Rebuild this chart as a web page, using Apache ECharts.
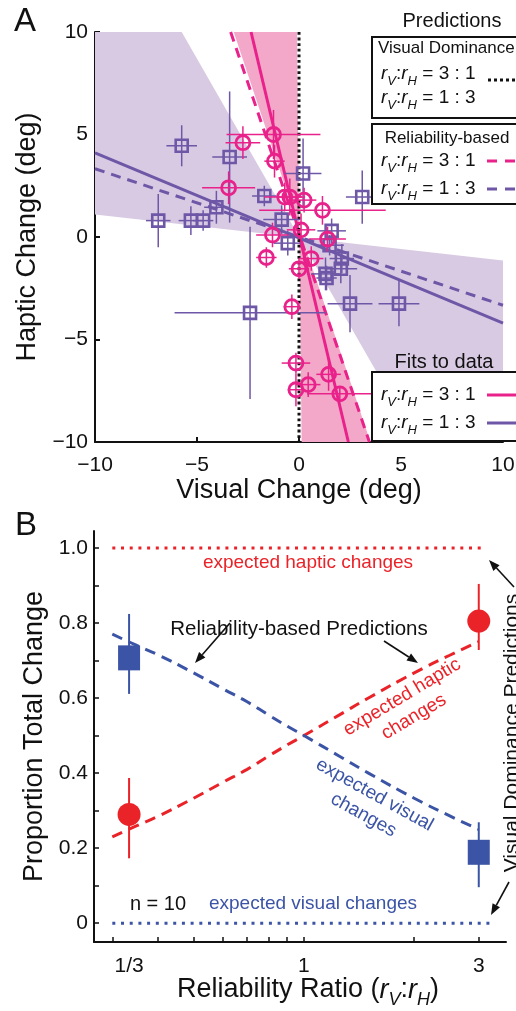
<!DOCTYPE html>
<html><head><meta charset="utf-8">
<script src="https://cdn.jsdelivr.net/npm/echarts@6/dist/echarts.min.js"></script>
<style>html,body{margin:0;padding:0;background:#fff}#c{width:516px;height:1011px}</style>
</head><body><div id="c"></div>
<script>
// ---------------- Panel A data ----------------
// r_V:r_H = 3:1 (pink circles)
const pinkX    = [-2.75, -1.25, -1.2, -3.45, -0.7, -0.45, 0.25, 1.15, -1.3, 0.1, 1.4, -1.6, 0.6, 0.0, -0.35, -0.15, -0.15, 0.45, 1.45, 2.0];
const pinkY    = [4.6, 5.0, 3.7, 2.4, 1.95, 1.95, 1.8, 1.3, 0.1, 0.35, -0.1, -1.0, -1.05, -1.55, -3.4, -6.15, -7.45, -7.2, -6.7, -7.65];
const pinkXErr = [0.85, 2.3, 0.5, 1.3, 1.0, 0.6, 0.6, 3.1, 0.8, 0.7, 0.9, 0.5, 0.6, 0.5, 0.4, 0.7, 0.4, 0.6, 0.6, 1.6];
const pinkYErr = [0.8, 1.2, 0.8, 0.8, 0.7, 0.9, 0.6, 0.7, 0.6, 0.8, 0.6, 0.5, 0.6, 0.5, 0.6, 0.5, 0.8, 0.6, 0.8, 0.3];
// r_V:r_H = 1:3 (purple squares)
const purpleX    = [-5.75, -3.4, -6.9, -5.3, -4.7, -4.05, -1.7, -0.85, 0.2, 3.1, -0.55, 1.6, 1.5, 2.1, 1.3, 1.35, 2.05, 2.5, 4.9, -2.4];
const purpleY    = [4.45, 3.9, 0.8, 0.8, 0.8, 1.45, 2.0, 0.85, 3.1, 1.95, -0.3, 0.3, -0.4, -1.05, -1.8, -2.0, -1.55, -3.25, -3.25, -3.7];
const purpleXErr = [0.75, 0.85, 0.6, 0.6, 0.5, 0.6, 0.6, 0.9, 0.9, 0.8, 0.7, 0.7, 0.7, 0.6, 0.7, 0.5, 0.8, 1.1, 1.0, 3.7];
const purpleYErr = [1.0, 3.2, 1.3, 0.7, 0.5, 0.8, 0.5, 0.7, 1.7, 1.3, 0.6, 0.6, 0.5, 0.7, 0.8, 0.6, 0.7, 1.4, 1.1, 4.2];
// prediction and fit lines (endpoints in data units)
const visDomLine = [[0, 10], [0, -10]];
const relPred31  = [[-3.35, 10], [3.45, -10]];
const relPred13  = [[-10, 3.33], [10, -3.33]];
const fit31      = [[-2.35, 10], [2.42, -10]];
const fit13      = [[-10, 4.1], [10, -4.2]];
// confidence wedges for the fits
const pinkBand   = [[-3.2, 10], [-0.1, 10], [0.13, -10], [3.5, -10]];
const purpleBand = [[-10, 1.1], [-10, 10], [-5.75, 10], [5.77, -10], [10, -10], [10, -1.15]];

// ---------------- Panel B data ----------------
const ratioCats   = [1/3, 3];
const hapticProp  = [0.29, 0.805];
const hapticLo    = [0.173, 0.728];
const hapticHi    = [0.387, 0.904];
const visualProp  = [0.707, 0.189];
const visualLo    = [0.611, 0.096];
const visualHi    = [0.824, 0.269];
const predRatio   = [0.3, 0.35, 0.4, 0.5, 0.6, 0.7, 0.8, 0.9, 1, 1.25, 1.5, 2, 2.5, 3];
const predHaptic  = [0.23, 0.26, 0.285, 0.333, 0.375, 0.41, 0.445, 0.475, 0.5, 0.555, 0.6, 0.667, 0.714, 0.75];
const predVisual  = [0.77, 0.74, 0.715, 0.667, 0.625, 0.59, 0.555, 0.525, 0.5, 0.445, 0.4, 0.333, 0.286, 0.25];
const domHapticSpan = [0.3, 3.08], domHapticVal = 1;
const domVisualSpan = [0.3, 3.28], domVisualVal = 0;
const xTickRatios  = [0.3, 0.4, 0.5, 0.6, 0.7, 0.8, 0.9, 1, 2, 3];
const xLabelRatios = [1/3, 1, 3];
const xLabelTexts  = ['1/3', '1', '3'];
const yTicksB  = [0, 0.1, 0.2, 0.3, 0.4, 0.5, 0.6, 0.7, 0.8, 0.9, 1.0];
const yLabelsB = [0, 0.2, 0.4, 0.6, 0.8, 1.0];

// ---------------- styles ----------------
const FONT = 'Liberation Sans';
const PINK = '#E8228A', PURPLE = '#6F57A7';
const PINKFILL = '#F4A8C9', PURPLEFILL = '#D8CAE3';
const RED = '#EA2329', BLUE = '#3B54A5';
const lg = Math.log10;

const chart = echarts.init(document.getElementById('c'));

function errA(color) {
  return function (p, api) {
    const x = api.value(0), y = api.value(1), ex = api.value(2), ey = api.value(3);
    const l = api.coord([x - ex, y]), r = api.coord([x + ex, y]);
    const t = api.coord([x, y + ey]), b = api.coord([x, y - ey]);
    return {type: 'group', children: [
      {type: 'line', shape: {x1: l[0], y1: l[1], x2: r[0], y2: r[1]}, style: {stroke: color, lineWidth: 1.5}},
      {type: 'line', shape: {x1: t[0], y1: t[1], x2: b[0], y2: b[1]}, style: {stroke: color, lineWidth: 1.5}}
    ]};
  };
}
function errB(color) {
  return function (p, api) {
    const x = api.value(0), lo = api.value(1), hi = api.value(2);
    const a = api.coord([x, lo]), b = api.coord([x, hi]);
    return {type: 'line', shape: {x1: a[0], y1: a[1], x2: b[0], y2: b[1]}, style: {stroke: color, lineWidth: 2}};
  };
}
function bandSeries(poly, fill) {
  return {type: 'custom', xAxisIndex: 0, yAxisIndex: 0, data: [0], silent: true, z: 1,
    renderItem: (p, api) => ({type: 'polygon', shape: {points: poly.map(v => api.coord(v))}, style: {fill: fill}})};
}
function lineA(data, color, type, z) {
  return {type: 'line', xAxisIndex: 0, yAxisIndex: 0, data: data, symbol: 'none', silent: true, z: z || 3,
    lineStyle: {color: color, width: 3, type: type || 'solid', cap: 'butt'}};
}

const mathRich = (fs) => ({
  r: {fontFamily: FONT, fontStyle: 'italic', fontSize: fs, lineHeight: Math.round(fs * 1.4), color: '#111'},
  s: {fontFamily: FONT, fontStyle: 'italic', fontSize: Math.round(fs * 0.68), lineHeight: Math.round(fs * 0.72), verticalAlign: 'bottom', color: '#111'},
  n: {fontFamily: FONT, fontSize: fs, lineHeight: Math.round(fs * 1.4), color: '#111'}
});
const ratioText = (a, b) => '{r|r}{s|V}{n|:}{r|r}{s|H}{n| = ' + a + ' : ' + b + '}';

function txt(x, y, text, fs, opts) {
  opts = opts || {};
  return {type: 'text', x: x, y: y, rotation: opts.rot || 0, z: 100,
    style: {text: text, fontFamily: FONT, fontSize: fs, fill: opts.color || '#111',
      align: opts.align || 'center', verticalAlign: 'middle', lineHeight: opts.lh, rich: opts.rich}};
}
function dashSample(x1, x2, y, color, dash) {
  return {type: 'line', z: 100, shape: {x1: x1, y1: y, x2: x2, y2: y}, style: {stroke: color, lineWidth: 3, lineDash: dash}};
}
function arrow(x1, y1, x2, y2) {
  const ang = Math.atan2(y2 - y1, x2 - x1), L = 11, W = 4.2;
  const bx = x2 - L * Math.cos(ang), by = y2 - L * Math.sin(ang);
  const px = -Math.sin(ang) * W, py = Math.cos(ang) * W;
  return [
    {type: 'line', z: 100, shape: {x1: x1, y1: y1, x2: bx, y2: by}, style: {stroke: '#111', lineWidth: 1.6}},
    {type: 'polygon', z: 100, shape: {points: [[x2, y2], [bx + px, by + py], [bx - px, by - py]]}, style: {fill: '#111'}}
  ];
}

const minus = v => (v < 0 ? '\u2212' + Math.abs(v) : String(v));

const graphics = [
  txt(25, 22, 'A', 33),
  txt(26, 526, 'B', 33),
  // legend: Predictions
  txt(452, 21, 'Predictions', 20),
  {type: 'rect', z: 99, shape: {x: 372, y: 37, width: 170, height: 81}, style: {fill: '#fff', stroke: '#111', lineWidth: 2}},
  txt(378, 48, 'Visual Dominance', 17, {align: 'left'}),
  txt(381, 74, ratioText(3, 1), 19, {align: 'left', rich: mathRich(19)}),
  txt(381, 98, ratioText(1, 3), 19, {align: 'left', rich: mathRich(19)}),
  dashSample(488, 520, 80, '#111', [3, 3]),
  {type: 'rect', z: 99, shape: {x: 372, y: 124, width: 170, height: 80}, style: {fill: '#fff', stroke: '#111', lineWidth: 2}},
  txt(447, 138, 'Reliability-based', 17),
  txt(381, 161, ratioText(3, 1), 19, {align: 'left', rich: mathRich(19)}),
  txt(381, 189, ratioText(1, 3), 19, {align: 'left', rich: mathRich(19)}),
  dashSample(487, 520, 161, PINK, [10, 8]),
  dashSample(487, 520, 189, PURPLE, [10, 8]),
  // legend: Fits to data
  txt(444, 362, 'Fits to data', 20),
  {type: 'rect', z: 99, shape: {x: 372, y: 372, width: 170, height: 69}, style: {fill: '#fff', stroke: '#111', lineWidth: 2}},
  txt(381, 395, ratioText(3, 1), 19, {align: 'left', rich: mathRich(19)}),
  txt(381, 423, ratioText(1, 3), 19, {align: 'left', rich: mathRich(19)}),
  dashSample(487, 520, 395, PINK, null),
  dashSample(487, 520, 423, PURPLE, null),
  // Panel B annotations
  txt(308, 563, 'expected haptic changes', 19, {color: RED}),
  txt(313, 904, 'expected visual changes', 19, {color: BLUE}),
  txt(158, 904, 'n = 10', 20),
  txt(299, 629, 'Reliability-based Predictions', 20.5),
  txt(408, 707, 'expected haptic\nchanges', 19, {color: RED, rot: 31 * Math.PI / 180, lh: 23}),
  txt(369, 805, 'expected visual\nchanges', 19, {color: BLUE, rot: -29 * Math.PI / 180, lh: 23}),
  txt(512, 733, 'Visual Dominance Predictions', 21, {rot: Math.PI / 2}),
  txt(308, 990, '{n|Reliability Ratio (}{r|r}{s|V}{n|:}{r|r}{s|H}{n|)}', 27, {rich: mathRich(27)})
].concat(arrow(230, 623, 195, 663), arrow(384, 641, 418, 663), arrow(514, 587, 489, 560), arrow(509, 882, 491, 915));

const axLine = {onZero: false, lineStyle: {color: '#111', width: 2}};
const option = {
  animation: false,
  textStyle: {fontFamily: FONT},
  grid: [
    {left: 95, top: 32, width: 408, height: 410, containLabel: false, outerBoundsMode: 'none'},
    {left: 94, top: 531, width: 412, height: 411, containLabel: false, outerBoundsMode: 'none'}
  ],
  xAxis: [
    {type: 'value', gridIndex: 0, min: -10, max: 10, interval: 5,
      name: 'Visual Change (deg)', nameLocation: 'middle', nameGap: 28,
      nameTextStyle: {fontSize: 27, color: '#111', fontFamily: FONT},
      axisLine: axLine,
      axisTick: {inside: true, length: 5, lineStyle: {color: '#111', width: 2}},
      axisLabel: {fontSize: 21, color: '#111', margin: 13, formatter: minus, showMinLabel: true, showMaxLabel: true},
      splitLine: {show: false}},
    {type: 'value', gridIndex: 1, min: lg(0.2674), max: lg(3.56),
      axisLine: axLine,
      axisTick: {inside: true, length: 5, lineStyle: {color: '#111', width: 1.5}, customValues: xTickRatios.map(lg)},
      axisLabel: {fontSize: 21, color: '#111', margin: 14, customValues: xLabelRatios.map(lg),
        formatter: v => { let bi = 0, bd = 1e9; xLabelRatios.forEach((r, i) => { const d = Math.abs(lg(r) - v); if (d < bd) { bd = d; bi = i; } }); return xLabelTexts[bi]; }},
      splitLine: {show: false}}
  ],
  yAxis: [
    {type: 'value', gridIndex: 0, min: -10, max: 10, interval: 5,
      name: 'Haptic Change (deg)', nameLocation: 'middle', nameGap: 38, nameRotate: 90,
      nameTextStyle: {fontSize: 27, color: '#111', fontFamily: FONT},
      axisLine: axLine,
      axisTick: {inside: true, length: 5, lineStyle: {color: '#111', width: 2}},
      axisLabel: {fontSize: 21, color: '#111', margin: 7, formatter: minus, showMinLabel: true, showMaxLabel: true},
      splitLine: {show: false}},
    {type: 'value', gridIndex: 1, min: -0.05, max: 1.045,
      name: 'Proportion Total Change', nameLocation: 'middle', nameGap: 45, nameRotate: 90,
      nameTextStyle: {fontSize: 27, color: '#111', fontFamily: FONT},
      axisLine: axLine,
      axisTick: {inside: true, length: 5, lineStyle: {color: '#111', width: 1.5}, customValues: yTicksB},
      axisLabel: {fontSize: 21, color: '#111', margin: 6, customValues: yLabelsB, formatter: v => (v === 0 ? '0' : v.toFixed(1))},
      splitLine: {show: false}}
  ],
  series: [
    bandSeries(purpleBand, PURPLEFILL),
    bandSeries(pinkBand, PINKFILL),
    lineA(relPred13, PURPLE, [10, 7]),
    lineA(relPred31, PINK, [10, 7]),
    lineA(fit13, PURPLE, 'solid'),
    lineA(fit31, PINK, 'solid'),
    lineA(visDomLine, '#111', [2.8, 2.8], 4),
    {type: 'custom', xAxisIndex: 0, yAxisIndex: 0, silent: true, z: 5, renderItem: errA(PURPLE),
      data: purpleX.map((x, i) => [x, purpleY[i], purpleXErr[i], purpleYErr[i]])},
    {type: 'scatter', xAxisIndex: 0, yAxisIndex: 0, silent: true, z: 6, symbol: 'rect', symbolSize: 12,
      itemStyle: {color: 'rgba(0,0,0,0)', borderColor: PURPLE, borderWidth: 2.6, opacity: 1},
      data: purpleX.map((x, i) => [x, purpleY[i]])},
    {type: 'custom', xAxisIndex: 0, yAxisIndex: 0, silent: true, z: 7, renderItem: errA(PINK),
      data: pinkX.map((x, i) => [x, pinkY[i], pinkXErr[i], pinkYErr[i]])},
    {type: 'scatter', xAxisIndex: 0, yAxisIndex: 0, silent: true, z: 8, symbol: 'circle', symbolSize: 14,
      itemStyle: {color: 'rgba(0,0,0,0)', borderColor: PINK, borderWidth: 2.8, opacity: 1},
      data: pinkX.map((x, i) => [x, pinkY[i]])},
    // Panel B
    {type: 'line', xAxisIndex: 1, yAxisIndex: 1, symbol: 'none', silent: true, smooth: true, z: 3,
      lineStyle: {color: RED, width: 3, type: [11, 7]}, data: predRatio.map((r, i) => [lg(r), predHaptic[i]])},
    {type: 'line', xAxisIndex: 1, yAxisIndex: 1, symbol: 'none', silent: true, smooth: true, z: 3,
      lineStyle: {color: BLUE, width: 3, type: [11, 7]}, data: predRatio.map((r, i) => [lg(r), predVisual[i]])},
    {type: 'line', xAxisIndex: 1, yAxisIndex: 1, symbol: 'none', silent: true, z: 3,
      lineStyle: {color: RED, width: 3, type: [3, 5.7]}, data: domHapticSpan.map(r => [lg(r), domHapticVal])},
    {type: 'line', xAxisIndex: 1, yAxisIndex: 1, symbol: 'none', silent: true, z: 3,
      lineStyle: {color: BLUE, width: 3, type: [3, 5.7]}, data: domVisualSpan.map(r => [lg(r), domVisualVal])},
    {type: 'custom', xAxisIndex: 1, yAxisIndex: 1, silent: true, z: 4, renderItem: errB(RED),
      data: ratioCats.map((r, i) => [lg(r), hapticLo[i], hapticHi[i]])},
    {type: 'custom', xAxisIndex: 1, yAxisIndex: 1, silent: true, z: 4, renderItem: errB(BLUE),
      data: ratioCats.map((r, i) => [lg(r), visualLo[i], visualHi[i]])},
    {type: 'scatter', xAxisIndex: 1, yAxisIndex: 1, silent: true, z: 5, symbol: 'circle', symbolSize: 23,
      itemStyle: {color: RED, opacity: 1}, data: ratioCats.map((r, i) => [lg(r), hapticProp[i]])},
    {type: 'scatter', xAxisIndex: 1, yAxisIndex: 1, silent: true, z: 5, symbol: 'rect', symbolSize: [22, 25],
      itemStyle: {color: BLUE, opacity: 1}, data: ratioCats.map((r, i) => [lg(r), visualProp[i]])}
  ],
  graphic: {elements: graphics}
};
chart.setOption(option);
</script></body></html>
